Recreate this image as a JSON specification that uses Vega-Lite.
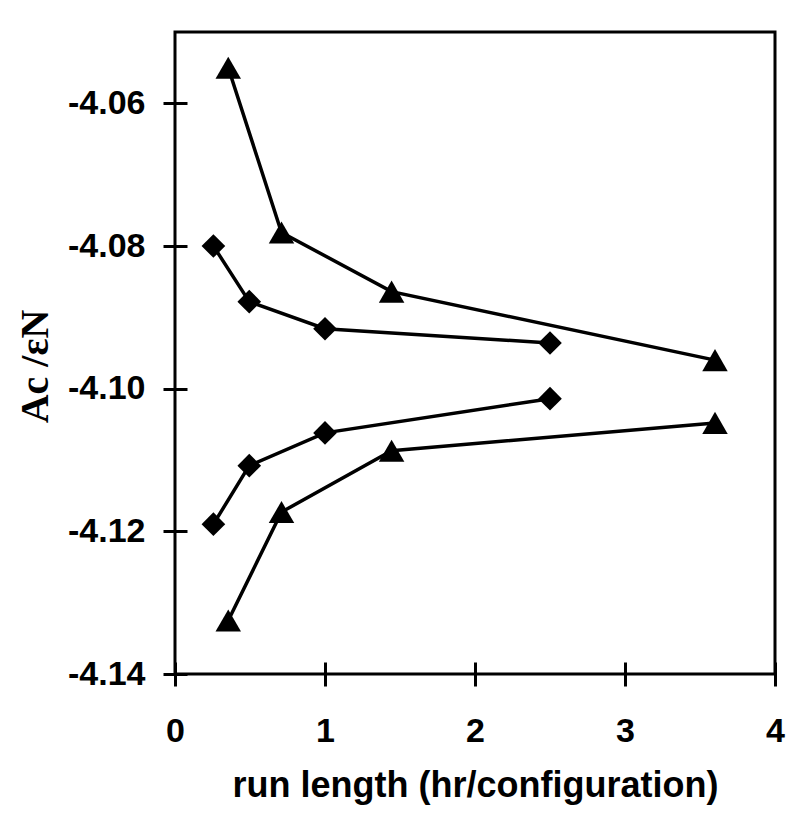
{
  "$schema": "https://vega.github.io/schema/vega-lite/v6.json",
  "width": 600,
  "height": 642,
  "autosize": {"type": "none"},
  "padding": {"left": 175, "top": 32, "right": 25, "bottom": 142},
  "background": "white",
  "config": {
    "view": {"stroke": "black", "strokeWidth": 3},
    "axis": {
      "domain": false,
      "grid": false,
      "ticks": true,
      "tickColor": "black",
      "tickWidth": 3,
      "tickSize": 24,
      "offset": -12,
      "labelFlush": false,
      "labelColor": "black",
      "labelFont": "Liberation Sans",
      "labelFontWeight": "bold",
      "labelFontSize": 34,
      "titleColor": "black"
    }
  },
  "data": {
    "values": [
      {"series": "tri_upper", "marker": "triangle", "x": 0.355, "y": -4.0550},
      {"series": "tri_upper", "marker": "triangle", "x": 0.71, "y": -4.0781},
      {"series": "tri_upper", "marker": "triangle", "x": 1.444, "y": -4.0864},
      {"series": "tri_upper", "marker": "triangle", "x": 3.6, "y": -4.0960},
      {"series": "dia_upper", "marker": "diamond", "x": 0.256, "y": -4.0800},
      {"series": "dia_upper", "marker": "diamond", "x": 0.495, "y": -4.0878},
      {"series": "dia_upper", "marker": "diamond", "x": 1.0, "y": -4.0916},
      {"series": "dia_upper", "marker": "diamond", "x": 2.5, "y": -4.0936},
      {"series": "dia_lower", "marker": "diamond", "x": 0.256, "y": -4.1190},
      {"series": "dia_lower", "marker": "diamond", "x": 0.495, "y": -4.1108},
      {"series": "dia_lower", "marker": "diamond", "x": 1.0, "y": -4.1062},
      {"series": "dia_lower", "marker": "diamond", "x": 2.5, "y": -4.1014},
      {"series": "tri_lower", "marker": "triangle", "x": 0.355, "y": -4.1325},
      {"series": "tri_lower", "marker": "triangle", "x": 0.71, "y": -4.1173},
      {"series": "tri_lower", "marker": "triangle", "x": 1.444, "y": -4.1087},
      {"series": "tri_lower", "marker": "triangle", "x": 3.6, "y": -4.1048}
    ]
  },
  "encoding": {
    "x": {
      "field": "x",
      "type": "quantitative",
      "scale": {"domain": [0, 4], "nice": false, "zero": false},
      "axis": {
        "values": [0, 1, 2, 3, 4],
        "format": "d",
        "labelPadding": 28,
        "title": "run length (hr/configuration)",
        "titleFont": "Liberation Sans",
        "titleFontWeight": "bold",
        "titleFontSize": 36,
        "titlePadding": 20
      }
    },
    "y": {
      "field": "y",
      "type": "quantitative",
      "scale": {"domain": [-4.14, -4.05], "nice": false, "zero": false},
      "axis": {
        "values": [-4.14, -4.12, -4.10, -4.08, -4.06],
        "labelExpr": "'-' + format(abs(datum.value), '.2f')",
        "labelPadding": 18,
        "title": "Ac /εN",
        "titleFont": "Liberation Serif",
        "titleFontWeight": "bold",
        "titleFontSize": 40,
        "titlePadding": 12,
        "titleY": 334
      }
    }
  },
  "layer": [
    {
      "mark": {"type": "line", "color": "black", "strokeWidth": 3.5},
      "encoding": {"detail": {"field": "series", "type": "nominal"}}
    },
    {
      "mark": {"type": "point", "filled": true, "color": "black", "opacity": 1},
      "encoding": {
        "shape": {
          "field": "marker",
          "type": "nominal",
          "scale": {"domain": ["triangle", "diamond"], "range": ["triangle-up", "diamond"]},
          "legend": null
        },
        "size": {
          "field": "marker",
          "type": "nominal",
          "scale": {"domain": ["triangle", "diamond"], "range": [650, 560]},
          "legend": null
        }
      }
    }
  ]
}
